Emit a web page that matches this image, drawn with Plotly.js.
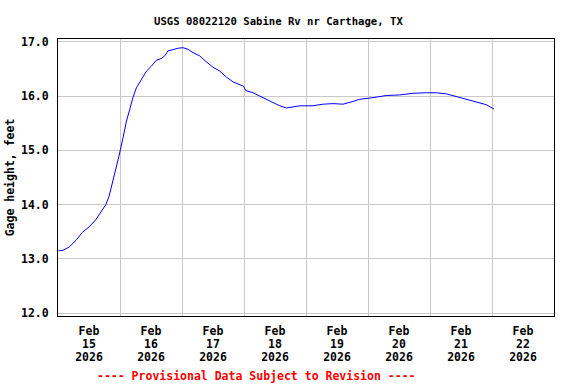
<!DOCTYPE html>
<html>
<head>
<meta charset="utf-8">
<script src="https://cdn.plot.ly/plotly-3.0.1.min.js"></script>
<style>html,body{margin:0;padding:0;background:#fff;}#chart{width:576px;height:384px;}</style>
</head>
<body>
<div id="chart"></div>
<script>
var times = [
  '2026-02-15 00:10','2026-02-15 01:55','2026-02-15 04:20','2026-02-15 06:55','2026-02-15 09:25',
  '2026-02-15 12:00','2026-02-15 14:35','2026-02-15 16:30','2026-02-15 18:30','2026-02-15 19:45',
  '2026-02-15 21:05','2026-02-15 22:20','2026-02-15 23:35','2026-02-16 01:10','2026-02-16 02:30',
  '2026-02-16 03:45','2026-02-16 05:00','2026-02-16 06:20','2026-02-16 08:15','2026-02-16 10:15',
  '2026-02-16 12:10','2026-02-16 14:05','2026-02-16 16:00','2026-02-16 17:20','2026-02-16 18:35',
  '2026-02-16 20:30','2026-02-16 22:30','2026-02-17 00:25','2026-02-17 02:20','2026-02-17 04:15',
  '2026-02-17 06:50','2026-02-17 09:25','2026-02-17 12:00','2026-02-17 14:35','2026-02-17 17:10',
  '2026-02-17 19:45','2026-02-17 22:20','2026-02-17 23:50','2026-02-18 00:40','2026-02-18 03:30',
  '2026-02-18 06:05','2026-02-18 08:40','2026-02-18 11:15','2026-02-18 13:50','2026-02-18 16:25',
  '2026-02-18 19:00','2026-02-18 21:35','2026-02-19 02:40','2026-02-19 06:35','2026-02-19 10:30',
  '2026-02-19 14:20','2026-02-19 18:10','2026-02-19 20:45','2026-02-20 01:55','2026-02-20 07:05',
  '2026-02-20 12:15','2026-02-20 17:25','2026-02-20 22:35','2026-02-21 02:30','2026-02-21 06:20',
  '2026-02-21 10:10','2026-02-21 14:05','2026-02-21 18:00','2026-02-21 21:50','2026-02-22 00:45'
];
var gageHeight = [
  13.15,13.16,13.22,13.34,13.49,
  13.59,13.72,13.85,14.00,14.15,
  14.40,14.64,14.89,15.23,15.54,
  15.75,15.97,16.15,16.31,16.46,
  16.55,16.66,16.69,16.74,16.83,
  16.86,16.88,16.89,16.86,16.80,
  16.74,16.63,16.53,16.46,16.35,
  16.26,16.20,16.18,16.10,16.06,
  16.00,15.94,15.88,15.82,15.78,
  15.80,15.82,15.82,15.85,15.86,
  15.85,15.90,15.94,15.97,16.01,
  16.02,16.05,16.06,16.06,16.04,
  15.99,15.93,15.88,15.84,15.76
];
var tickMonths = ['Feb','Feb','Feb','Feb','Feb','Feb','Feb','Feb'];
var tickDays = ['15','16','17','18','19','20','21','22'];
var tickYears = ['2026','2026','2026','2026','2026','2026','2026','2026'];
var yTicks = [12,13,14,15,16,17];

var labelPos = tickDays.map(function(d){ return '2026-02-' + d + ' 12:00'; });
var gridPos = tickDays.map(function(d){ return '2026-02-' + d + ' 00:00'; }).concat(['2026-02-23 00:00']);
var xRange = ['2026-02-15 00:00','2026-02-23 00:00'];

var mono = 'DejaVu Sans Mono, monospace';
var tickFont = {family: mono, size: 11.5, color: '#000', weight: 'bold'};

function labelAxis(text, standoff) {
  return {
    type: 'date', range: xRange, overlaying: 'x', anchor: 'y', side: 'bottom',
    tickmode: 'array', tickvals: labelPos, ticktext: text,
    showgrid: false, showline: false, zeroline: false, ticks: '',
    ticklabelstandoff: standoff, tickfont: tickFont, fixedrange: true
  };
}

var trace = {
  x: times, y: gageHeight, type: 'scatter', mode: 'lines',
  line: {color: '#0000FF', width: 1}, hoverinfo: 'skip', showlegend: false
};
function ghost(ax) {
  return {x: [xRange[0]], y: [null], xaxis: ax, yaxis: 'y', type: 'scatter', mode: 'lines',
          hoverinfo: 'skip', showlegend: false, line: {color: 'rgba(0,0,0,0)'}};
}

var layout = {
  width: 576, height: 384,
  margin: {l: 58, r: 22, t: 39, b: 68},
  paper_bgcolor: '#fff', plot_bgcolor: '#fff',
  showlegend: false,
  title: {text: 'USGS 08022120 Sabine Rv nr Carthage, TX',
          font: {family: mono, size: 10.6, color: '#000', weight: 'bold'},
          x: 0.2674, xanchor: 'left', xref: 'container', y: 0.945, yanchor: 'middle'},
  xaxis: {
    type: 'date', range: xRange, tickmode: 'array', tickvals: gridPos,
    showticklabels: false, ticks: '', showgrid: true, gridcolor: '#C8C8C8', gridwidth: 1,
    showline: true, linecolor: '#000', linewidth: 1, mirror: true, zeroline: false
  },
  xaxis2: labelAxis(tickMonths, 6),
  xaxis3: labelAxis(tickDays, 19),
  xaxis4: labelAxis(tickYears, 32),
  yaxis: {
    range: [11.95, 17.05], tickmode: 'array', tickvals: yTicks, tickformat: '.1f',
    ticks: '', ticklabelstandoff: 6, tickfont: tickFont,
    showgrid: true, gridcolor: '#C8C8C8', gridwidth: 1,
    showline: true, linecolor: '#000', linewidth: 1, mirror: true, zeroline: false,
    title: {text: 'Gage height, feet', font: tickFont, standoff: 3}
  },
  annotations: [{
    text: '---- Provisional Data Subject to Revision ----',
    xref: 'paper', yref: 'paper', x: 0.074, y: -0.215, xanchor: 'left', yanchor: 'middle',
    showarrow: false, font: {family: mono, size: 11.5, color: '#FF0000', weight: 'bold'}
  }]
};

Plotly.newPlot('chart', [trace, ghost('x2'), ghost('x3'), ghost('x4')], layout, {staticPlot: true, displayModeBar: false});
</script>
</body>
</html>
